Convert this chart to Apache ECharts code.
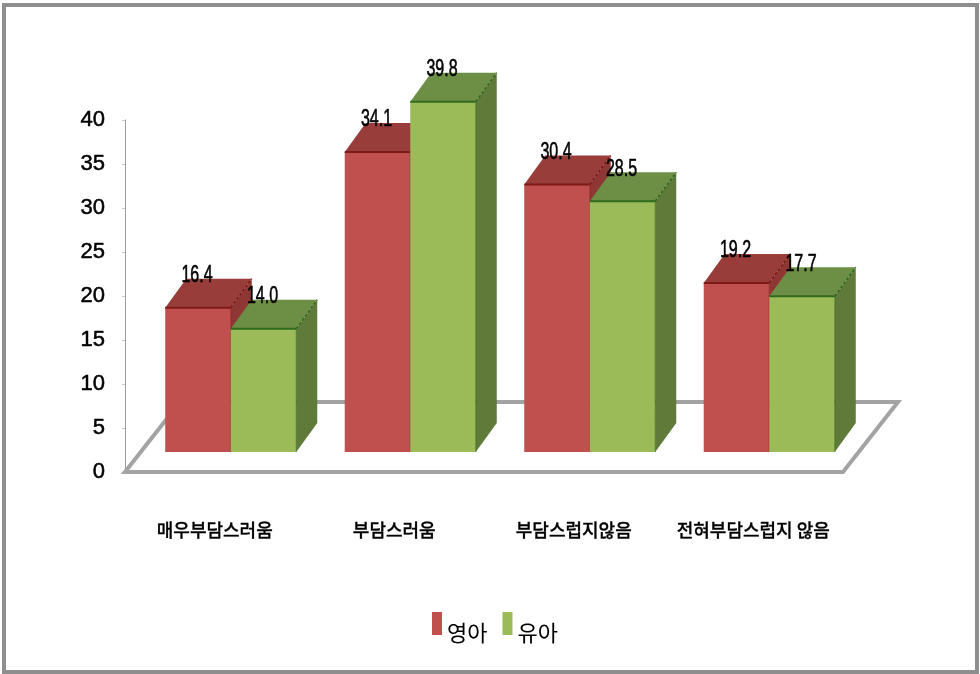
<!DOCTYPE html>
<html>
<head>
<meta charset="utf-8">
<script src="https://cdn.jsdelivr.net/npm/echarts@6/dist/echarts.min.js"></script>
<style>html,body{margin:0;padding:0;background:#fff}#c{width:980px;height:674px}</style>
</head>
<body>
<div id="c"></div>
<script>
const categories = ['매우부담스러움', '부담스러움', '부담스럽지않음', '전혀부담스럽지 않음'];
const infantName = '영아';
const toddlerName = '유아';
const infant = [16.4, 34.1, 30.4, 19.2];
const toddler = [14.0, 39.8, 28.5, 17.7];
const infantLabels = ['16.4', '34.1', '30.4', '19.2'];
const toddlerLabels = ['14.0', '39.8', '28.5', '17.7'];

const KR = '"Noto Sans CJK KR","Noto Sans",sans-serif';
const FLOOR_X = 16, FLOOR_Y = -20, DEPTH_X = 21, DEPTH_Y = -29, BAR_FRAC = 0.365;

function barRenderer(side, labels, colors) {
  return function (params, api) {
    const i = api.value(0);
    const band = api.size([1, 0])[0];
    const w = band * BAR_FRAC;
    const t = api.coord([i, api.value(1)]);
    const b = api.coord([i, 0]);
    const x0 = t[0] + FLOOR_X + (side < 0 ? -w : 0);
    const x1 = x0 + w;
    const yt = t[1] + FLOOR_Y;
    const yb = b[1] + FLOOR_Y;
    return {
      type: 'group',
      children: [
        { type: 'polygon', shape: { points: [[x1, yt], [x1 + DEPTH_X, yt + DEPTH_Y], [x1 + DEPTH_X, yb + DEPTH_Y], [x1, yb]] },
          style: { fill: colors.side } },
        { type: 'polygon', shape: { points: [[x0, yt], [x1, yt], [x1 + DEPTH_X, yt + DEPTH_Y], [x0 + DEPTH_X, yt + DEPTH_Y]] },
          style: { fill: colors.top } },
        { type: 'rect', shape: { x: x0, y: yt, width: w, height: yb - yt }, style: { fill: colors.front } },
        { type: 'line', shape: { x1: x0, y1: yt, x2: x1, y2: yt }, style: { stroke: colors.edge, lineWidth: 2 } },
        { type: 'line', shape: { x1: x1, y1: yt, x2: x1 + DEPTH_X, y2: yt + DEPTH_Y },
          style: { stroke: colors.edge, lineWidth: 1.5, lineDash: [3, 2] } },
        { type: 'line', shape: { x1: x1, y1: yt, x2: x1, y2: yb }, style: { stroke: colors.edge, lineWidth: 1, opacity: 0.7 } },
        { type: 'text', x: (x0 + x1) / 2 - 1, y: yt - 32, scaleY: 1.45,
          style: { text: labels[i], fill: '#000', font: '16px "Liberation Sans",sans-serif', align: 'center', verticalAlign: 'middle',
                    stroke: '#000', lineWidth: 0.4 } }
      ]
    };
  };
}

function floorRenderer(params, api) {
  const c = params.coordSys;
  const yF = c.y + c.height, xL = c.x, xR = c.x + c.width, yB = yF - 70, d = 55;
  return {
    type: 'polygon',
    shape: { points: [[xL, yF], [xR, yF], [xR + d, yB], [xL + d, yB]] },
    style: { fill: '#fff', stroke: '#a3a3a3', lineWidth: 4 }
  };
}

const chart = echarts.init(document.getElementById('c'), null, { renderer: 'canvas' });
chart.setOption({
  animation: false,
  backgroundColor: '#fff',
  graphic: [{
    type: 'rect', silent: true, z: -1,
    shape: { x: 4, y: 5, width: 973, height: 667 },
    style: { fill: 'none', stroke: '#8e8e8e', lineWidth: 4 }
  }],
  grid: { left: 125, top: 120, width: 718, height: 352 },
  legend: {
    data: [infantName, toddlerName],
    left: 432, top: 612, padding: 0,
    icon: 'rect', itemWidth: 10, itemHeight: 23, itemGap: 15,
    formatter: '{a|{name}}',
    textStyle: { color: '#000', fontFamily: KR, fontSize: 22,
      rich: { a: { color: '#000', fontFamily: KR, fontSize: 22, padding: [18, 0, 0, 0] } } }
  },
  xAxis: {
    type: 'category', data: categories,
    axisLine: { show: false }, axisTick: { show: false },
    axisLabel: { color: '#000', fontFamily: KR, fontSize: 18, margin: 49, interval: 0, fontWeight: 500,
      textBorderColor: '#000', textBorderWidth: 0.3 }
  },
  yAxis: {
    type: 'value', min: 0, max: 40, interval: 5,
    splitLine: { show: false },
    axisLine: { show: true, lineStyle: { color: '#9a9a9a', width: 1 } },
    axisTick: { show: true, length: 3, lineStyle: { color: '#c8c8c8' } },
    axisLabel: { color: '#000', fontFamily: '"Liberation Sans",sans-serif', fontSize: 22, margin: 20, padding: [5, 0, 0, 0],
      textBorderColor: '#000', textBorderWidth: 0.5 }
  },
  series: [
    { type: 'custom', name: 'floor', silent: true, clip: false, data: [[0, 0]],
      encode: { x: 0, y: 1 }, renderItem: floorRenderer, z: 1 },
    { type: 'custom', name: infantName, clip: false, itemStyle: { color: '#c0504d' },
      encode: { x: 0, y: 1 }, data: infant.map((v, i) => [i, v]), z: 2,
      renderItem: barRenderer(-1, infantLabels, { front: '#c0504d', top: '#993d3b', side: '#8f3735', edge: '#7d1a18' }) },
    { type: 'custom', name: toddlerName, clip: false, itemStyle: { color: '#9bbb59' },
      encode: { x: 0, y: 1 }, data: toddler.map((v, i) => [i, v]), z: 3,
      renderItem: barRenderer(1, toddlerLabels, { front: '#9bbb59', top: '#6d8f45', side: '#5f7a39', edge: '#2f6a1e' }) }
  ]
});
</script>
</body>
</html>
